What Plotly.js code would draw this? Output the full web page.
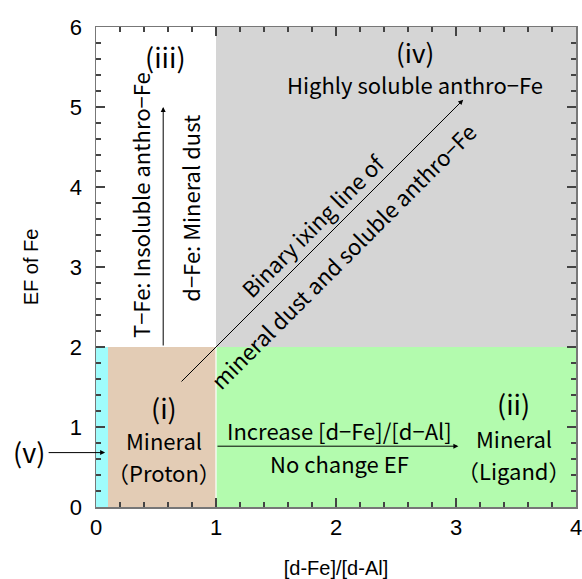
<!DOCTYPE html>
<html><head><meta charset="utf-8">
<script src="https://cdn.plot.ly/plotly-3.0.1.min.js"></script>
<style>html,body{margin:0;padding:0;background:#fff}#chart{width:582px;height:579px}</style>
</head><body><div id="chart"></div>
<script>
// Regions (data coords)
const regionNames = ["(v)", "(i)", "(ii)", "(iv)"];
const regionX0 = [0, 0.1, 1, 1];
const regionX1 = [0.1, 1, 4, 4];
const regionY0 = [0, 0, 0, 2];
const regionY1 = [2, 2, 2, 6];
const regionColors = ["#9ffcfc", "#e3ccb5", "#b3fbae", "#d5d5d5"];

// Arrows: tail -> tip
const arrowTailX = [0.56, 0.7, 1.0];
const arrowTailY = [2.0, 1.55, 0.76];
const arrowTipX = [0.56, 3.06, 3.02];
const arrowTipY = [5.0, 5.09, 0.76];

// Labels
const labelTexts = ["(iii)", "T\u2212Fe: Insoluble anthro\u2212Fe", "d\u2212Fe: Mineral dust",
  "(iv)", "Highly soluble anthro\u2212Fe", "Binary ixing line of", "mineral dust and soluble anthro\u2212Fe",
  "(i)", "Mineral", "\uFF08Proton\uFF09", "Increase [d\u2212Fe]/[d\u2212Al]", "No change EF",
  "(ii)", "Mineral", "\uFF08Ligand\uFF09"];
const labelX = [0.575, 0.367, 0.783, 2.66, 2.66, 1.8, 2.05, 0.567, 0.567, 0.567, 2.03, 2.03, 3.48, 3.48, 3.48];
const labelY = [5.63, 3.775, 3.74, 5.7, 5.29, 3.525, 3.14, 1.25, 0.84, 0.44, 0.96, 0.55, 1.29, 0.86, 0.46];
const labelAngle = [0, -90, -90, 0, 0, -45, -45, 0, 0, 0, 0, 0, 0, 0, 0];
const labelSize = [27, 22, 22, 26, 22, 22, 22, 27, 22, 22, 22, 22, 27, 22, 22];

const xTitle = "[d-Fe]/[d-Al]";
const yTitle = "EF of Fe";

const jp = "Noto Sans CJK JP, sans-serif";
const sans = "Liberation Sans, Arial, sans-serif";
const shapes = regionX0.map((x0, i) => ({
  type: "rect", xref: "x", yref: "y", x0: x0, x1: regionX1[i], y0: regionY0[i], y1: regionY1[i],
  fillcolor: regionColors[i], line: {width: 0}, layer: "below"
}));
shapes.push({type: "line", xref: "x", yref: "y", x0: 1, x1: 1, y0: 0, y1: 2, line: {color: "#ffffff", width: 1.2}, layer: "below"});

const annotations = [];
arrowTipX.forEach((x, i) => annotations.push({
  x: x, y: arrowTipY[i], ax: arrowTailX[i], ay: arrowTailY[i], xref: "x", yref: "y", axref: "x", ayref: "y",
  text: "", showarrow: true, arrowhead: 2, arrowsize: 1, arrowwidth: 1, arrowcolor: "#000"
}));
labelTexts.forEach((t, i) => annotations.push({
  x: labelX[i], y: labelY[i], xref: "x", yref: "y", text: t, showarrow: false, textangle: labelAngle[i],
  xanchor: "center", yanchor: "middle", borderpad: 0,
  font: {family: jp, size: labelSize[i], color: "#000"}
}));
// (v) outside the plot
annotations.push({x: -0.14, y: 0.69, xref: "paper", yref: "y", text: "(v)", showarrow: false,
  xanchor: "center", yanchor: "middle", font: {family: jp, size: 27, color: "#000"}});
annotations.push({x: 0.019, y: 0.68, xref: "paper", yref: "y", ax: -58, ay: 0, text: "", showarrow: true,
  arrowhead: 2, arrowsize: 1, arrowwidth: 1, arrowcolor: "#000"});

const axisCommon = {
  showgrid: false, zeroline: false, showline: true, linecolor: "#777", linewidth: 1.5,
  ticks: "inside", ticklen: 9, tickcolor: "#444", tickwidth: 1.5, ticklabeloverflow: "allow",
  tickfont: {family: sans, size: 22, color: "#000"},
  minor: {ticks: "inside", ticklen: 5, tickcolor: "#444", tickwidth: 1.3, dtick: 0.2, showgrid: false}
};

const layout = {
  width: 582, height: 579,
  margin: {l: 96, r: 6, t: 27, b: 72},
  paper_bgcolor: "#fff", plot_bgcolor: "#fff",
  showlegend: false,
  xaxis: Object.assign({}, axisCommon, {range: [0, 4], dtick: 1, tick0: 0,
    title: {text: xTitle, font: {family: sans, size: 20, color: "#000"}, standoff: 22}}),
  yaxis: Object.assign({}, axisCommon, {range: [0, 6], dtick: 1, tick0: 0, ticklabelstandoff: 8,
    title: {text: yTitle, font: {family: sans, size: 20, color: "#000"}, standoff: 26}}),
  xaxis2: Object.assign({}, axisCommon, {range: [0, 4], dtick: 1, tick0: 0, side: "top", overlaying: "x",
    showticklabels: false, anchor: "y2"}),
  yaxis2: Object.assign({}, axisCommon, {range: [0, 6], dtick: 1, tick0: 0, side: "right", overlaying: "y",
    showticklabels: false, anchor: "x2"}),
  shapes: shapes,
  annotations: annotations
};

Plotly.newPlot("chart", [
  {x: [], y: [], type: "scatter", mode: "markers"},
  {x: [], y: [], type: "scatter", mode: "markers", xaxis: "x2", yaxis: "y2"}
], layout, {displayModeBar: false, staticPlot: true});
</script></body></html>
